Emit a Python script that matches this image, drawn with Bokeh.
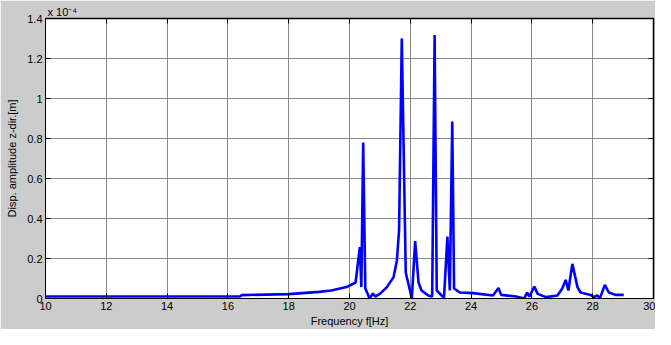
from bokeh.plotting import figure
from bokeh.models import Range1d, FixedTicker, LinearAxis, Title
from bokeh.embed import file_html
from bokeh.resources import INLINE

# Frequency [Hz] and displacement amplitude [x 1e-4 m]
freq = [10.0, 16.4, 16.45, 18.0, 19.0, 19.4, 19.9, 20.2, 20.34, 20.39, 20.45, 20.52,
        20.58, 20.66, 20.77, 20.85, 21.0, 21.23, 21.45, 21.56, 21.63, 21.72, 21.85,
        22.05, 22.16, 22.27, 22.37, 22.59, 22.72, 22.8, 22.87, 23.03, 23.11, 23.22,
        23.3, 23.38, 23.44, 23.63, 24.06, 24.72, 24.9, 24.99, 25.48, 25.75, 25.84,
        25.92, 26.08, 26.19, 26.46, 26.84, 27.0, 27.11, 27.2, 27.33, 27.5, 27.6,
        27.93, 28.04, 28.15, 28.24, 28.4, 28.53, 28.75, 29.02]
amp = [0.01, 0.01, 0.017, 0.022, 0.033, 0.04, 0.057, 0.08, 0.257, 0.057, 0.78, 0.05,
       0.03, 0.0, 0.025, 0.01, 0.023, 0.057, 0.107, 0.19, 0.34, 1.30, 0.13,
       0.0, 0.287, 0.08, 0.04, 0.015, 0.01, 1.317, 0.04, 0.015, 0.005, 0.31,
       0.04, 0.885, 0.05, 0.03, 0.027, 0.015, 0.053, 0.018, 0.01, 0.0, 0.03,
       0.01, 0.06, 0.023, 0.007, 0.015, 0.05, 0.093, 0.04, 0.173, 0.057, 0.03,
       0.018, 0.007, 0.015, 0.002, 0.068, 0.03, 0.018, 0.018]

x_ticks = [10, 12, 14, 16, 18, 20, 22, 24, 26, 28, 30]
x_tick_labels = ["10", "12", "14", "16", "18", "20", "22", "24", "26", "28", "30"]
y_ticks = [0, 0.2, 0.4, 0.6, 0.8, 1.0, 1.2, 1.4]
y_tick_labels = ["0", "0.2", "0.4", "0.6", "0.8", "1", "1.2", "1.4"]
scale_text = "x 10\u207b\u2074"

FONT = "Liberation Sans"
GRAY = "#cccccc"

p = figure(width=655, height=329, output_backend="svg", toolbar_location=None,
           x_range=Range1d(10, 30), y_range=Range1d(0, 1.4), title=None,
           min_border_left=45, min_border_right=2, min_border_top=18,
           min_border_bottom=31)
p.border_fill_color = GRAY
p.background_fill_color = "white"
p.outline_line_color = "black"
p.outline_line_width = 1

p.line(freq, amp, line_color="#0000ff", line_width=2.6)

for ax in (p.xaxis[0], p.yaxis[0]):
    ax.major_tick_in = 5
    ax.major_tick_out = 0
    ax.minor_tick_in = 0
    ax.minor_tick_out = 0
    ax.axis_line_color = "black"
    ax.major_tick_line_color = "black"
    ax.major_label_text_font = FONT
    ax.major_label_text_font_size = "11px"
    ax.major_label_text_color = "black"
    ax.axis_label_text_font = FONT
    ax.axis_label_text_font_size = "11px"
    ax.axis_label_text_font_style = "normal"
    ax.axis_label_text_color = "black"

p.xaxis[0].ticker = FixedTicker(ticks=x_ticks)
p.xaxis[0].major_label_overrides = dict(zip(x_ticks, x_tick_labels))
p.xaxis[0].major_label_standoff = 3
p.xaxis[0].axis_label = "Frequency f[Hz]"
p.xaxis[0].axis_label_standoff = 2

p.yaxis[0].ticker = FixedTicker(ticks=y_ticks)
p.yaxis[0].major_label_overrides = dict(zip(y_ticks, y_tick_labels))
p.yaxis[0].major_label_standoff = 3
p.yaxis[0].axis_label = "Disp. amplitude z-dir.[m]"
p.yaxis[0].axis_label_standoff = 6

for side, ticks in (("above", x_ticks), ("right", y_ticks)):
    ax2 = LinearAxis(ticker=FixedTicker(ticks=ticks))
    ax2.major_tick_in = 5
    ax2.major_tick_out = 0
    ax2.minor_tick_in = 0
    ax2.minor_tick_out = 0
    ax2.major_label_overrides = {t: "" for t in ticks}
    ax2.major_label_standoff = 0
    ax2.axis_line_color = "black"
    ax2.axis_line_width = 1.5
    p.add_layout(ax2, side)

p.xgrid.ticker = FixedTicker(ticks=x_ticks)
p.ygrid.ticker = FixedTicker(ticks=y_ticks)
p.grid.grid_line_color = "#8a8a8a"
p.grid.grid_line_width = 1

t = Title(text=scale_text, align="left", offset=2, standoff=2,
          text_font=FONT, text_font_size="11px", text_font_style="normal",
          text_color="black")
p.add_layout(t, "above")

open("out.html", "w").write(file_html(p, INLINE))
